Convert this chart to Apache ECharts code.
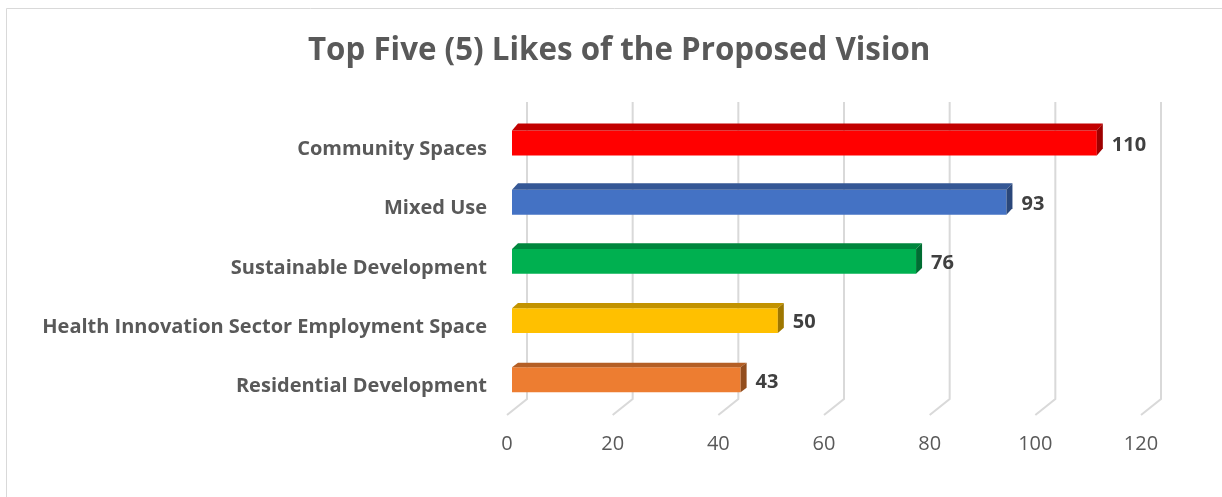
<!DOCTYPE html>
<html><head><meta charset="utf-8">
<script src="https://cdn.jsdelivr.net/npm/echarts@6/dist/echarts.min.js"></script>
<style>html,body{margin:0;padding:0;background:#fff}#c{width:1222px;height:497px}</style>
</head><body><div id="c"></div>
<script>
const titleText = 'Top Five (5) Likes of the Proposed Vision';
const categories = ['Community Spaces', 'Mixed Use', 'Sustainable Development', 'Health Innovation Sector Employment Space', 'Residential Development'];
const values = [110, 93, 76, 50, 43];
const barColors = ['#FF0000', '#4472C4', '#00B050', '#FFC000', '#ED7D31'];
const axisTicks = [0, 20, 40, 60, 80, 100, 120];

const FONT = 'Open Sans';
function shade(hex, f) {
  const n = parseInt(hex.slice(1), 16);
  const r = Math.round(((n >> 16) & 255) * f), g = Math.round(((n >> 8) & 255) * f), b = Math.round((n & 255) * f);
  return 'rgb(' + r + ',' + g + ',' + b + ')';
}

const chart = echarts.init(document.getElementById('c'), null, { renderer: 'canvas' });
const option = {
  animation: false,
  backgroundColor: '#ffffff',
  graphic: [{
    type: 'rect', shape: { x: 6.5, y: 8.5, width: 1240, height: 520 },
    style: { fill: null, stroke: '#d9d9d9', lineWidth: 1 }, silent: true, z: -10
  }],
  title: {
    text: titleText, left: 303, top: 31,
    textStyle: { fontFamily: FONT, fontSize: 31.3, fontWeight: 'bold', color: '#595959' }
  },
  grid: [
    { left: 507, right: 81, top: 102, bottom: 82 },
    { left: 512, right: 72, top: 113.4, bottom: 87.6 }
  ],
  xAxis: [
    { gridIndex: 0, type: 'value', min: 0, max: 120, interval: 20,
      axisLine: { show: false }, axisTick: { show: false }, splitLine: { show: false },
      axisLabel: { color: '#595959', fontSize: 20, fontFamily: FONT, margin: 19 } },
    { gridIndex: 1, type: 'value', min: 0, max: 120, interval: 20, show: false, splitLine: { show: false } }
  ],
  yAxis: [
    { gridIndex: 0, type: 'value', min: 0, max: 1, show: false, splitLine: { show: false } },
    { gridIndex: 1, type: 'category', data: categories, inverse: true,
      axisLine: { show: false }, axisTick: { show: false }, splitLine: { show: false },
      axisLabel: { color: '#595959', fontSize: 20, fontWeight: 'bold', fontFamily: FONT, margin: 25, verticalAlign: 'top', lineHeight: 13 } }
  ],
  series: [
    {
      type: 'custom', xAxisIndex: 0, yAxisIndex: 0, silent: true, z: 1,
      data: axisTicks.map(t => [t]), encode: { x: 0 },
      renderItem: function (params, api) {
        const p = api.coord([api.value(0), 0]);
        const top = api.coord([api.value(0), 1])[1];
        return {
          type: 'polyline',
          shape: { points: [[p[0], p[1]], [p[0] + 20, p[1] - 16], [p[0] + 20, top]] },
          style: { stroke: '#d9d9d9', lineWidth: 2, fill: null }
        };
      }
    },
    {
      type: 'custom', xAxisIndex: 1, yAxisIndex: 1, z: 2,
      data: values.map((v, i) => [v, i]), encode: { x: 0, y: 1 },
      renderItem: function (params, api) {
        const v = api.value(0), i = api.value(1);
        const s = api.coord([0, i]), e = api.coord([v, i]);
        const h = api.size([0, 1])[1] * 0.42;
        const dx = 6, dy = 7 - 0.6 * i;
        const y0 = s[1] - h / 2, y1 = s[1] + h / 2;
        const c = barColors[i];
        return {
          type: 'group',
          children: [
            { type: 'rect', shape: { x: s[0], y: y0, width: e[0] - s[0], height: h }, style: { fill: c } },
            { type: 'polygon', shape: { points: [[s[0], y0], [s[0] + dx, y0 - dy], [e[0] + dx, y0 - dy], [e[0], y0]] }, style: { fill: shade(c, 0.76) } },
            { type: 'polygon', shape: { points: [[e[0], y0], [e[0] + dx, y0 - dy], [e[0] + dx, y1 - dy], [e[0], y1]] }, style: { fill: shade(c, 0.62) } },
            { type: 'text', style: { text: String(v), x: e[0] + 15, y: s[1] + 2, verticalAlign: 'middle', align: 'left', fill: '#404040', fontFamily: FONT, fontWeight: 'bold', fontSize: 20 } }
          ]
        };
      }
    }
  ]
};
chart.setOption(option);
</script>
</body></html>
